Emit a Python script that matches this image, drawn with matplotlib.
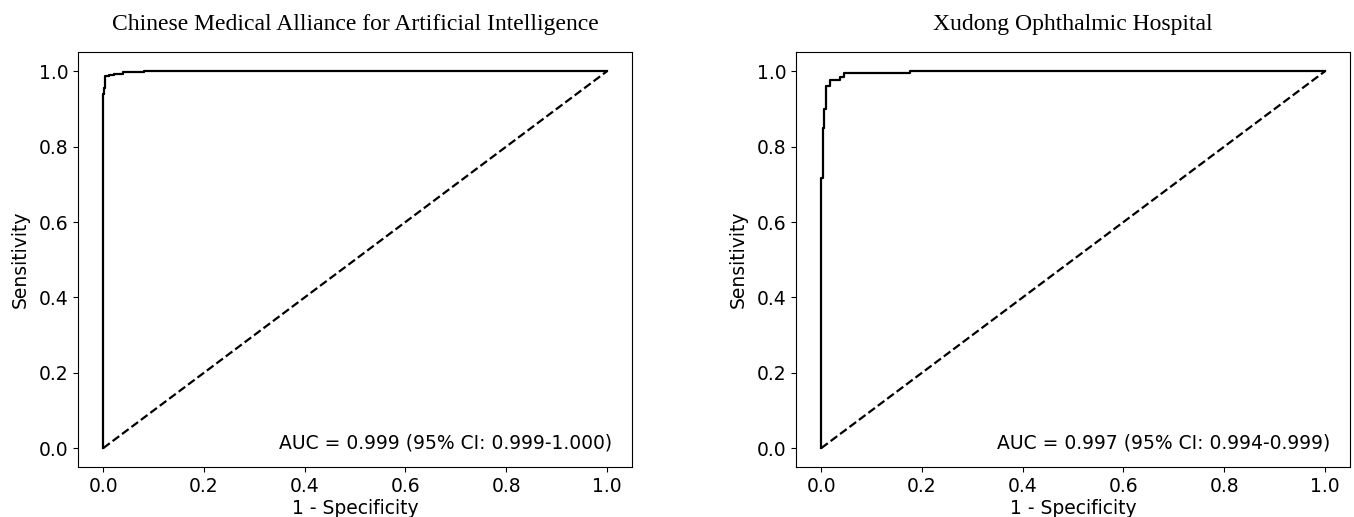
import numpy as np
import matplotlib.pyplot as plt

# ROC points (false positive rate, true positive rate)
fpr_cmaai = [0.0, 0.0, 0.001, 0.001, 0.004, 0.004, 0.012, 0.012, 0.022, 0.022, 0.040, 0.040, 0.082, 0.082, 1.0]
tpr_cmaai = [0.0, 0.940, 0.940, 0.955, 0.955, 0.988, 0.988, 0.990, 0.990, 0.994, 0.994, 0.997, 0.997, 1.0, 1.0]

fpr_xudong = [0.0, 0.0, 0.004, 0.004, 0.006, 0.006, 0.010, 0.010, 0.017, 0.017, 0.038, 0.038, 0.046, 0.046, 0.176, 0.176, 1.0]
tpr_xudong = [0.0, 0.716, 0.716, 0.850, 0.850, 0.900, 0.900, 0.960, 0.960, 0.978, 0.978, 0.985, 0.985, 0.995, 0.995, 1.0, 1.0]

titles = ['Chinese Medical Alliance for Artificial Intelligence', 'Xudong Ophthalmic Hospital']
auc_labels = ['AUC = 0.999 (95% CI: 0.999-1.000)', 'AUC = 0.997 (95% CI: 0.994-0.999)']

fig = plt.figure(figsize=(13.54, 5.17), dpi=100)
ax1 = fig.add_axes([0.0576, 0.0967, 0.4092, 0.8018])
ax2 = fig.add_axes([0.5879, 0.0967, 0.4092, 0.8018])

fs = 13.5
for ax, fpr, tpr, title, lab in zip([ax1, ax2], [fpr_cmaai, fpr_xudong], [tpr_cmaai, tpr_xudong], titles, auc_labels):
    ax.plot(fpr, tpr, color='black', lw=1.6)
    ax.plot([0, 1], [0, 1], color='black', lw=1.6, ls='--')
    ax.set_xticks(np.arange(0, 1.01, 0.2))
    ax.set_yticks(np.arange(0, 1.01, 0.2))
    ax.tick_params(labelsize=fs)
    ax.set_xlabel('1 - Specificity', fontsize=fs, labelpad=2)
    ax.set_ylabel('Sensitivity', fontsize=fs, labelpad=6)
    ax.set_title(title, fontsize=17, family='Liberation Serif', pad=16)
    ax.text(0.964, 0.035, lab, transform=ax.transAxes, ha='right', va='bottom', fontsize=fs)

fig.savefig('out.png', dpi=100)
